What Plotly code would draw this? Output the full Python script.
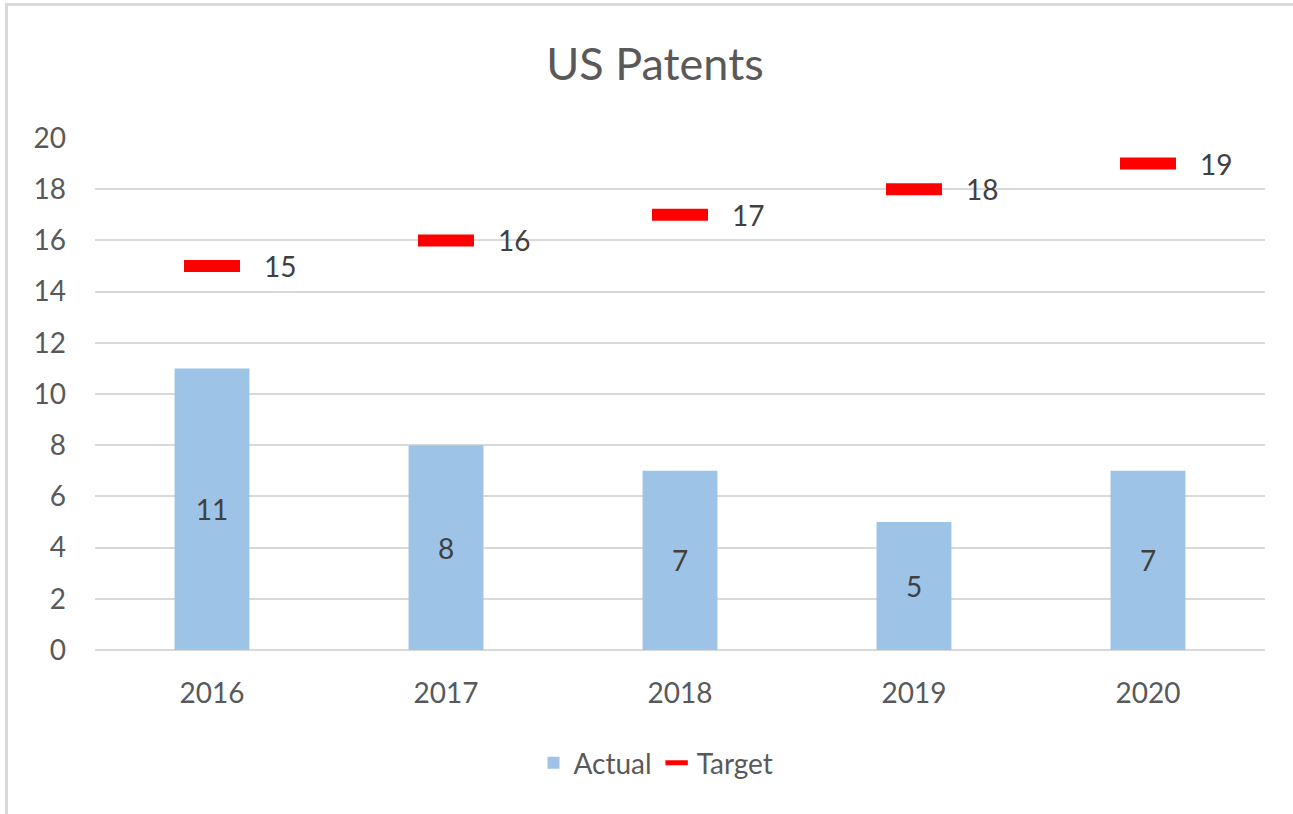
import plotly.graph_objects as go

years = ["2016", "2017", "2018", "2019", "2020"]
actual = [11, 8, 7, 5, 7]
target = [15, 16, 17, 18, 19]
y_ticks = [0, 2, 4, 6, 8, 10, 12, 14, 16, 18, 20]

W, H = 1293, 814
L, R, T, B = 95, 28, 138, 164
FONT = "Lato, 'Open Sans', sans-serif"
TXT = "#595959"
LBL = "#404040"
GRID = "#d9d9d9"

fig = go.Figure()
fig.add_trace(go.Bar(
    x=years, y=actual, name="Actual",
    marker=dict(color="#9dc3e6", line=dict(width=0)),
    text=[str(v) for v in actual], textposition="inside",
    insidetextanchor="middle", textangle=0,
    textfont=dict(family=FONT, size=28, color=LBL),
    cliponaxis=False,
))
fig.add_trace(go.Scatter(
    x=years, y=target, name="Target", mode="markers",
    marker=dict(symbol="line-ew", size=40, color="#ff0000",
                line=dict(color="#ff0000", width=12)),
    cliponaxis=False,
))

annotations = []
for i, v in enumerate(target):
    annotations.append(dict(
        x=i, y=v, xref="x", yref="y", text=str(v), showarrow=False,
        xanchor="left", yanchor="middle", xshift=50,
        font=dict(family=FONT, size=28, color=LBL),
    ))

plot_w = W - L - R
plot_h = H - T - B
def px_x(p):
    return (p - L) / plot_w
def px_y(p):
    return (H - B - p) / plot_h

shapes = [
    dict(type="line", xref="paper", yref="paper",
         x0=px_x(5), x1=px_x(W + 5), y0=px_y(4.5), y1=px_y(4.5),
         line=dict(color=GRID, width=3)),
    dict(type="line", xref="paper", yref="paper",
         x0=px_x(6.5), x1=px_x(6.5), y0=px_y(3), y1=px_y(H + 5),
         line=dict(color=GRID, width=3)),
]

fig.update_layout(
    width=W, height=H,
    margin=dict(l=L, r=R, t=T, b=B, pad=0),
    paper_bgcolor="white", plot_bgcolor="white",
    font=dict(family=FONT, color=TXT, size=28),
    title=dict(text="US Patents", x=655 / W,
               xref="container", y=1 - 64 / H, yref="container",
               xanchor="center", yanchor="middle",
               font=dict(family=FONT, size=45, color=TXT)),
    bargap=0.68,
    showlegend=True,
    legend=dict(orientation="h", x=px_x(656), xanchor="center",
                y=px_y(763), yanchor="middle",
                font=dict(family=FONT, size=28, color=TXT),
                itemwidth=30, traceorder="normal"),
    xaxis=dict(type="category", range=[-0.5, len(years) - 0.5],
               showgrid=False, showline=False,
               ticks="", tickfont=dict(family=FONT, size=28, color=TXT),
               ticklabelstandoff=24),
    yaxis=dict(range=[0, 20], tickvals=y_ticks, showgrid=True,
               gridcolor=GRID, gridwidth=2, zeroline=True,
               zerolinecolor=GRID, zerolinewidth=2, showline=False,
               ticks="", tickfont=dict(family=FONT, size=28, color=TXT),
               ticklabelstandoff=28),
    annotations=annotations,
    shapes=shapes,
)

fig.write_html("out.html", config={"displayModeBar": False},
               post_script="document.body.style.margin='0px';document.body.style.overflow='hidden';")
